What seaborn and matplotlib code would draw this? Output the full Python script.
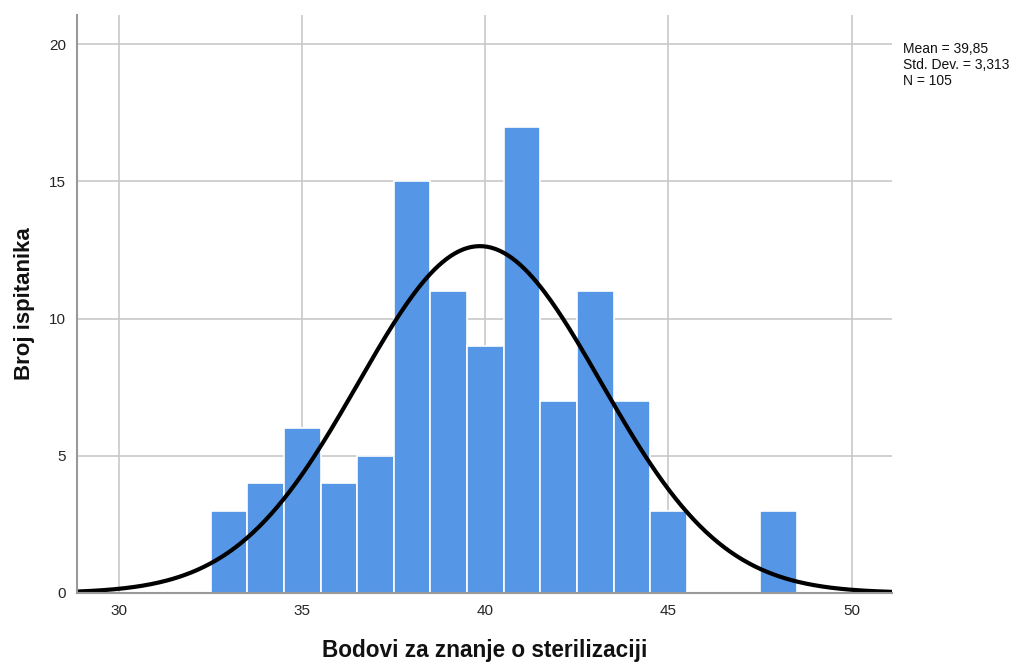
import numpy as np
import pandas as pd
import seaborn as sns
from matplotlib import pyplot as plt

# bodovi i broj ispitanika
scores = [33, 34, 35, 36, 37, 38, 39, 40, 41, 42, 43, 44, 45, 46, 47, 48]
counts = [3, 4, 6, 4, 5, 15, 11, 9, 17, 7, 11, 7, 3, 0, 0, 3]
mean = 39.85
std = 3.313
n = 105

x_ticks = [30, 35, 40, 45, 50]
y_ticks = [0, 5, 10, 15, 20]

sns.set_style("white")
plt.rcParams['font.family'] = ['Liberation Sans', 'DejaVu Sans']

# raspakiraj u pojedinačne rezultate
df = pd.DataFrame({"score": np.repeat(scores, counts)})

fig = plt.figure(figsize=(10.25, 6.64), dpi=100)
ax = fig.add_axes([0.0751, 0.107, 0.795, 0.870])

ax.grid(True, color="#c8c8c8", linewidth=1.2, zorder=0)
ax.set_axisbelow(True)

sns.histplot(data=df, x="score", discrete=True,
             color="#5596e6", alpha=1, edgecolor="white", linewidth=1.2, ax=ax)

# normalna krivulja
xs = np.linspace(28.85, 51.1, 400)
ys = n * np.exp(-0.5 * ((xs - mean) / std) ** 2) / (std * np.sqrt(2 * np.pi))
sns.lineplot(x=xs, y=ys, color="black", linewidth=3, ax=ax)

ax.set_xlim(28.85, 51.1)
ax.set_ylim(0, 21.06)
ax.set_xticks(x_ticks)
ax.set_yticks(y_ticks)
ax.tick_params(axis="both", labelsize=11, colors="#262626", length=0, pad=8)

for s in ["top", "right"]:
    ax.spines[s].set_visible(False)
for s in ["left", "bottom"]:
    ax.spines[s].set_color("#999999")
    ax.spines[s].set_linewidth(1.5)

ax.set_xlabel("Bodovi za znanje o sterilizaciji", fontsize=16.3, fontweight="bold",
              color="#111111", labelpad=15)
ax.set_ylabel("Broj ispitanika", fontsize=16, fontweight="bold", color="#111111", labelpad=10)

fig.text(0.881, 0.937, "Mean = 39,85\nStd. Dev. = 3,313\nN = 105", fontsize=10,
         va="top", ha="left", linespacing=1.2, color="#111111")

plt.savefig("out.png", dpi=100)
